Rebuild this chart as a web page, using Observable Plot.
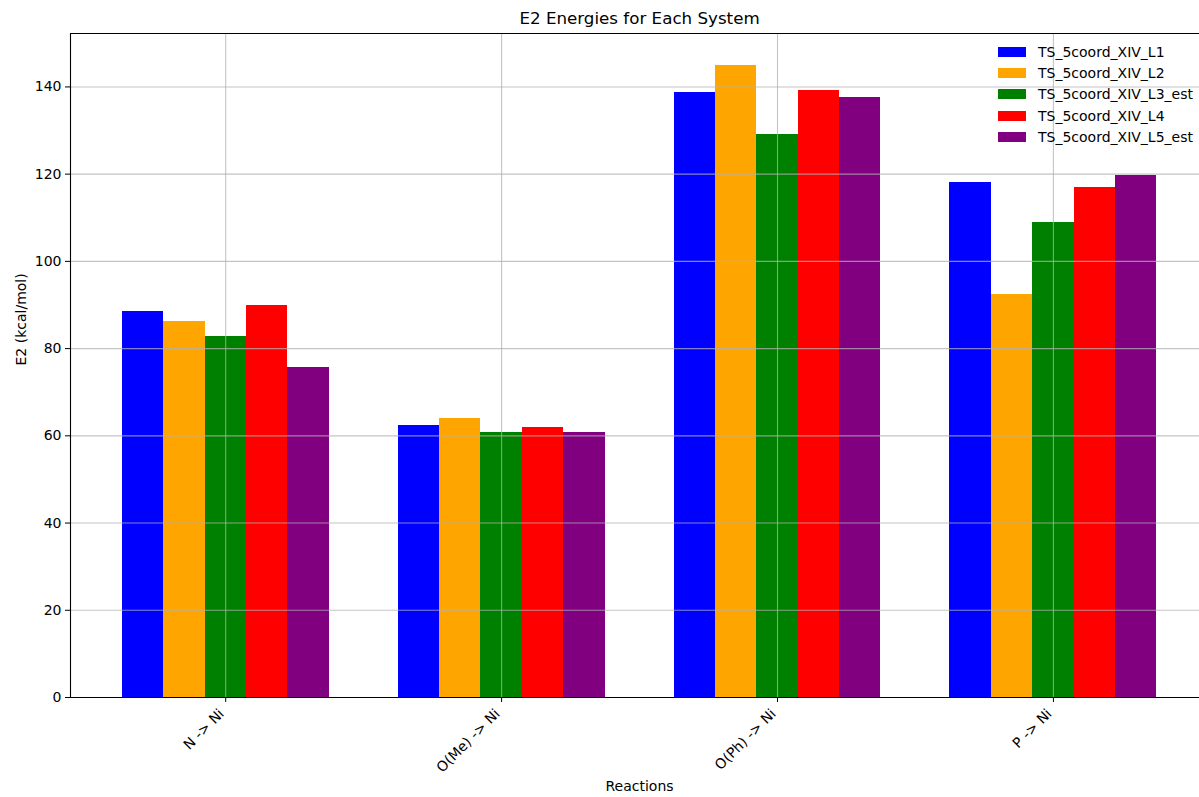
<!DOCTYPE html>
<html>
<head>
<meta charset="utf-8">
<script src="https://cdn.jsdelivr.net/npm/d3@7"></script>
<script src="https://cdn.jsdelivr.net/npm/@observablehq/plot@0.6"></script>
<style>
  html, body { margin: 0; padding: 0; background: #fff; }
  #wrap { position: relative; width: 1199px; height: 797px; font-family: "DejaVu Sans", sans-serif; }
  #legend { position: absolute; left: 998px; top: 41px; font-size: 14px; color: #000; }
  .item { display: flex; align-items: center; height: 21.3px; white-space: nowrap; }
  .sw { width: 28px; height: 10px; margin-right: 12px; }
</style>
</head>
<body>
<div id="wrap"><div id="legend"></div></div>
<script>
const categories = ["N -> Ni", "O(Me) -> Ni", "O(Ph) -> Ni", "P -> Ni"];
const seriesNames = ["TS_5coord_XIV_L1", "TS_5coord_XIV_L2", "TS_5coord_XIV_L3_est", "TS_5coord_XIV_L4", "TS_5coord_XIV_L5_est"];
const seriesColors = ["#0000ff", "#ffa500", "#008000", "#ff0000", "#800080"];
const L1 = [88.6, 62.3, 138.8, 118.2];
const L2 = [86.3, 63.9, 145.0, 92.3];
const L3_est = [82.7, 60.7, 129.0, 108.8];
const L4 = [89.8, 62.0, 139.1, 117.0];
const L5_est = [75.6, 60.8, 137.5, 119.8];
const yTicks = [0, 20, 40, 60, 80, 100, 120, 140];

const seriesValues = [L1, L2, L3_est, L4, L5_est];
const barWidth = 0.15;
const rows = [];
seriesValues.forEach((vals, si) => vals.forEach((v, ci) => {
  const x1 = ci + (si - 2) * barWidth - barWidth / 2;
  rows.push({cat: categories[ci], series: seriesNames[si], x1, x2: x1 + barWidth, value: v});
}));
const catIdx = categories.map((_, i) => i);
const font = "DejaVu Sans, sans-serif";

const chart = Plot.plot({
  width: 1199,
  height: 797,
  marginLeft: 70,
  marginRight: 0,
  marginTop: 33,
  marginBottom: 100,
  style: {fontFamily: font, fontSize: "14px", color: "#000", background: "#fff", overflow: "visible"},
  x: {domain: [-0.5625, 3.5295], label: null},
  y: {domain: [0, 152.25], label: null},
  color: {domain: seriesNames, range: seriesColors},
  marks: [
    Plot.rectY(rows, {x1: "x1", x2: "x2", y1: 0, y2: "value", fill: "series", shapeRendering: "crispEdges"}),
    Plot.gridY(yTicks, {stroke: "#b0b0b0", strokeOpacity: 0.75, strokeWidth: 1.1}),
    Plot.gridX(catIdx, {stroke: "#b0b0b0", strokeOpacity: 0.75, strokeWidth: 1.1}),
    Plot.axisY(yTicks, {tickSize: 5, tickPadding: 4, fontSize: 14, stroke: "#000", label: null}),
    Plot.axisX(catIdx, {tickSize: 5, text: null, stroke: "#000", label: null}),
    Plot.text(catIdx, {x: d => d, text: i => categories[i], frameAnchor: "bottom", rotate: -45, textAnchor: "end", lineAnchor: "middle", dx: -4, dy: 14, fontSize: 14, fill: "#000"}),
    Plot.ruleX([-0.5625], {stroke: "#000", strokeWidth: 1.1}),
    Plot.ruleY([0, 152.25], {stroke: "#000", strokeWidth: 1.1}),
    Plot.text(["E2 Energies for Each System"], {x: 1.5, frameAnchor: "top", lineAnchor: "middle", dy: -15, fontSize: 16.7, fill: "#000"}),
    Plot.text(["Reactions"], {x: 1.5, frameAnchor: "bottom", lineAnchor: "middle", dy: 89, fontSize: 14, fill: "#000"}),
    Plot.text(["E2 (kcal/mol)"], {frameAnchor: "left", dx: -49, rotate: -90, fontSize: 14, fill: "#000"})
  ]
});
document.getElementById("wrap").prepend(chart);

const legend = document.getElementById("legend");
seriesNames.forEach((name, i) => {
  const item = document.createElement("div");
  item.className = "item";
  const sw = document.createElement("div");
  sw.className = "sw";
  sw.style.background = seriesColors[i];
  const label = document.createElement("span");
  label.textContent = name;
  item.append(sw, label);
  legend.append(item);
});
</script>
</body>
</html>
